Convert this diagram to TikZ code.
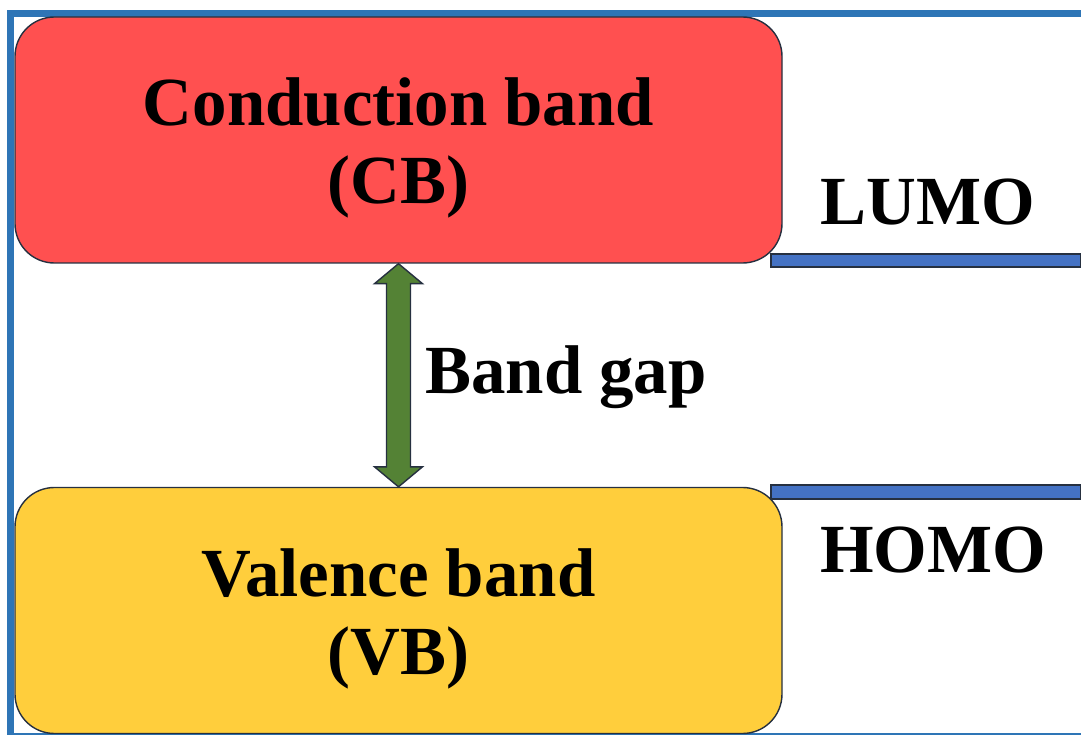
\documentclass[tikz,border=0pt]{standalone}
\usepackage{fontspec}
\setmainfont{Liberation Serif}
\usepackage{tikz}
\usetikzlibrary{calc, positioning}

\definecolor{cbred}{RGB}{255,80,80}
\definecolor{vbyellow}{RGB}{255,206,60}
\definecolor{gapgreen}{RGB}{84,130,53}
\definecolor{levelblue}{RGB}{68,114,196}
\definecolor{framblue}{RGB}{46,117,182}
\definecolor{edgedark}{RGB}{38,48,64}

\begin{document}
\begin{tikzpicture}[x=0.025cm, y=-0.025cm,
  band/.style={draw=edgedark, line width=1pt, rounded corners=28pt,
               minimum width=767*0.025cm, minimum height=246*0.025cm},
  lbl/.style={font=\fontsize{49}{55.5}\selectfont\bfseries, inner sep=0pt, anchor=base},
  bandtext/.style={font=\fontsize{49}{55.5}\selectfont\bfseries, align=center, inner sep=0pt},
  level/.style={draw=edgedark, line width=0.8pt, fill=levelblue},
  gaparrow/.style={draw=edgedark, line width=1pt, fill=gapgreen, line join=miter}]
\useasboundingbox (0,0) rectangle (1081,735);

% frame
\draw[framblue, line width=5pt] (1081,13.5) -- (10.5,13.5) -- (10.5,735);
\draw[framblue, line width=1.5pt] (10.5,734) -- (1081,734);

% bands
\node[band, fill=cbred] (cb) at (398.5,140) {};
\node[band, fill=vbyellow] (vb) at (398.5,610.5) {};
\node[bandtext] (cbtxt) at ($(cb.center)+(0,8)$) {Conduction band\\(CB)};
\node[bandtext] (vbtxt) at ($(vb.center)+(0,8)$) {Valence band\\(VB)};

% gap arrow
\draw[gaparrow] (cb.south) -- ++(24,20) -- ++(-12,0)
  -- ($(vb.north)+(12,-20)$) -- ++(12,0) -- (vb.north) -- ++(-24,-20) -- ++(12,0)
  -- ($(cb.south)+(-12,20)$) -- ++(-12,0) -- cycle;
\node[lbl, anchor=base west] (gap) at (425,393) {Band gap};

% levels
\draw[level] (771,254) rectangle (1081,267);
\draw[level] (771,485) rectangle (1081,499);
\node[lbl] (lumo) at (928,225) {LUMO};
\node[lbl] (homo) at (933,572) {HOMO};
\end{tikzpicture}
\end{document}
